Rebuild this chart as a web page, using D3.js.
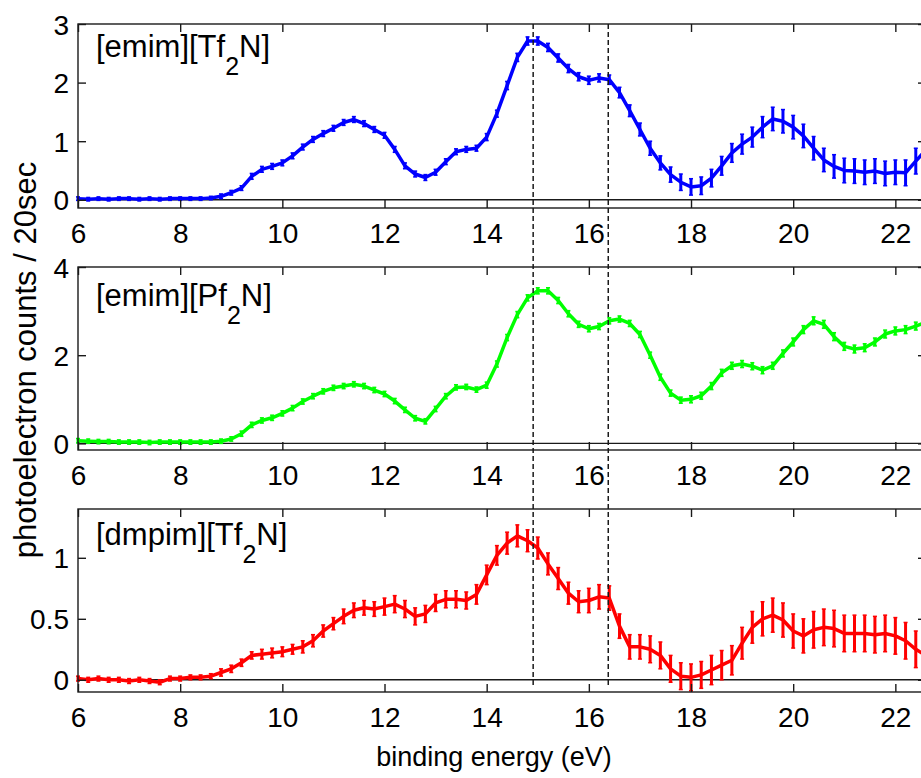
<!DOCTYPE html>
<html>
<head>
<meta charset="utf-8">
<script src="https://cdn.jsdelivr.net/npm/d3@7"></script>
<style>
  body { margin: 0; background: #fff; }
  svg { display: block; font-family: "Liberation Sans", Arial, sans-serif; }
</style>
</head>
<body>
<svg id="chart" width="921" height="778"></svg>
<script>
// binding energy grid (eV)
const energy = [
  6.0, 6.2, 6.4, 6.6, 6.8, 7.0, 7.2, 7.4, 7.6, 7.8,
  8.0, 8.2, 8.4, 8.6, 8.8, 9.0, 9.2, 9.4, 9.6, 9.8,
  10.0, 10.2, 10.4, 10.6, 10.8, 11.0, 11.2, 11.4, 11.6, 11.8,
  12.0, 12.2, 12.4, 12.6, 12.8, 13.0, 13.2, 13.4, 13.6, 13.8,
  14.0, 14.2, 14.4, 14.6, 14.8, 15.0, 15.2, 15.4, 15.6, 15.8,
  16.0, 16.2, 16.4, 16.6, 16.8, 17.0, 17.2, 17.4, 17.6, 17.8,
  18.0, 18.2, 18.4, 18.6, 18.8, 19.0, 19.2, 19.4, 19.6, 19.8,
  20.0, 20.2, 20.4, 20.6, 20.8, 21.0, 21.2, 21.4, 21.6, 21.8,
  22.0, 22.2, 22.4, 22.6
];

// [emim][Tf2N]
const emimTf2N = [
  0.02, 0.01, 0.02, 0.01, 0.02, 0.02, 0.01, 0.02, 0.01, 0.02,
  0.02, 0.02, 0.02, 0.03, 0.06, 0.12, 0.2, 0.4, 0.52, 0.57,
  0.63, 0.75, 0.9, 1.03, 1.13, 1.22, 1.32, 1.37, 1.3, 1.2,
  1.1, 0.86, 0.58, 0.44, 0.38, 0.47, 0.65, 0.82, 0.86, 0.88,
  1.07, 1.47, 1.95, 2.43, 2.71, 2.71, 2.6, 2.42, 2.24, 2.1,
  2.04, 2.08, 2.05, 1.83, 1.52, 1.2, 0.88, 0.63, 0.43, 0.3,
  0.22, 0.24, 0.37, 0.58, 0.8, 0.95, 1.07, 1.24, 1.38, 1.34,
  1.24, 1.09, 0.88, 0.68, 0.57, 0.5, 0.49, 0.47, 0.49, 0.45,
  0.47, 0.46, 0.66, 0.85
];
const emimTf2NErr = [
  0.03, 0.03, 0.03, 0.03, 0.03, 0.03, 0.03, 0.03, 0.03, 0.03,
  0.03, 0.03, 0.03, 0.03, 0.04, 0.04, 0.04, 0.05, 0.05, 0.05,
  0.05, 0.05, 0.05, 0.05, 0.05, 0.05, 0.05, 0.05, 0.05, 0.05,
  0.05, 0.05, 0.05, 0.05, 0.05, 0.05, 0.05, 0.05, 0.05, 0.05,
  0.06, 0.06, 0.07, 0.07, 0.07, 0.07, 0.07, 0.07, 0.07, 0.07,
  0.07, 0.07, 0.08, 0.09, 0.1, 0.11, 0.12, 0.12, 0.13, 0.14,
  0.14, 0.15, 0.15, 0.16, 0.16, 0.17, 0.17, 0.18, 0.2, 0.2,
  0.2, 0.2, 0.2, 0.2, 0.2, 0.21, 0.21, 0.21, 0.21, 0.21,
  0.21, 0.22, 0.22, 0.22
];

// [emim][Pf2N]
const emimPf2N = [
  0.06, 0.05, 0.04, 0.04, 0.03, 0.03, 0.03, 0.02, 0.03, 0.03,
  0.03, 0.03, 0.03, 0.03, 0.05, 0.1, 0.22, 0.42, 0.52, 0.58,
  0.68, 0.8, 0.95, 1.07, 1.18, 1.26, 1.3, 1.34, 1.3, 1.21,
  1.12, 0.96, 0.76, 0.57, 0.5, 0.78, 1.07, 1.27, 1.28, 1.22,
  1.32, 1.8, 2.4, 2.92, 3.3, 3.46, 3.46, 3.24, 2.94, 2.7,
  2.6, 2.65, 2.78, 2.82, 2.72, 2.47, 2.0, 1.5, 1.14, 0.98,
  1.0, 1.08, 1.3, 1.6, 1.76, 1.8, 1.75, 1.66, 1.76, 2.04,
  2.3, 2.58, 2.78, 2.7, 2.42, 2.2, 2.14, 2.17, 2.3, 2.48,
  2.55, 2.58, 2.66, 2.75
];
const emimPf2NErr = [
  0.05, 0.05, 0.05, 0.05, 0.05, 0.05, 0.05, 0.05, 0.05, 0.05,
  0.05, 0.05, 0.05, 0.05, 0.05, 0.05, 0.06, 0.06, 0.06, 0.06,
  0.06, 0.06, 0.06, 0.06, 0.06, 0.06, 0.06, 0.06, 0.06, 0.06,
  0.06, 0.06, 0.06, 0.06, 0.06, 0.06, 0.06, 0.06, 0.06, 0.06,
  0.07, 0.07, 0.07, 0.07, 0.07, 0.07, 0.07, 0.07, 0.07, 0.07,
  0.07, 0.07, 0.07, 0.07, 0.07, 0.07, 0.07, 0.07, 0.07, 0.07,
  0.08, 0.08, 0.08, 0.08, 0.08, 0.08, 0.08, 0.08, 0.08, 0.08,
  0.09, 0.09, 0.09, 0.09, 0.09, 0.09, 0.09, 0.09, 0.09, 0.09,
  0.09, 0.09, 0.09, 0.09
];

// [dmpim][Tf2N]
const dmpimTf2N = [
  0.01, 0.0, 0.01, 0.0, 0.0, -0.01, 0.0, -0.01, -0.02, 0.01,
  0.01, 0.02, 0.02, 0.03, 0.06, 0.09, 0.14, 0.2, 0.21, 0.22,
  0.23, 0.25, 0.27, 0.32, 0.4, 0.46, 0.52, 0.57, 0.59, 0.58,
  0.6, 0.62, 0.58, 0.52, 0.54, 0.63, 0.66, 0.66, 0.65, 0.7,
  0.86, 1.02, 1.12, 1.18, 1.14, 1.08, 0.95, 0.83, 0.71, 0.64,
  0.65, 0.68, 0.67, 0.44, 0.27, 0.27, 0.25, 0.2, 0.09, 0.03,
  0.02, 0.04, 0.08, 0.12, 0.16, 0.3, 0.43, 0.5, 0.53, 0.49,
  0.4, 0.36, 0.41, 0.43, 0.42, 0.38, 0.38, 0.38, 0.37, 0.38,
  0.36, 0.32, 0.25, 0.2
];
const dmpimTf2NErr = [
  0.02, 0.02, 0.02, 0.02, 0.02, 0.02, 0.02, 0.02, 0.02, 0.02,
  0.02, 0.02, 0.02, 0.02, 0.03, 0.03, 0.03, 0.03, 0.04, 0.04,
  0.04, 0.04, 0.05, 0.05, 0.05, 0.05, 0.06, 0.06, 0.06, 0.06,
  0.07, 0.07, 0.07, 0.07, 0.07, 0.07, 0.07, 0.07, 0.07, 0.08,
  0.08, 0.08, 0.09, 0.09, 0.09, 0.09, 0.09, 0.09, 0.09, 0.09,
  0.1, 0.1, 0.1, 0.1, 0.1, 0.1, 0.11, 0.11, 0.11, 0.11,
  0.11, 0.11, 0.12, 0.12, 0.12, 0.13, 0.13, 0.14, 0.14, 0.14,
  0.14, 0.14, 0.15, 0.15, 0.15, 0.15, 0.15, 0.15, 0.15, 0.15,
  0.15, 0.15, 0.15, 0.15
];

const xTicks = [6, 8, 10, 12, 14, 16, 18, 20, 22];
const markerEnergies = [14.91, 16.38];

const panelLabels = [
  ['[emim][Tf', '2', 'N]'],
  ['[emim][Pf', '2', 'N]'],
  ['[dmpim][Tf', '2', 'N]']
];
const panelYDomains = [[-0.14, 3], [-0.15, 4], [-0.1, 1.4]];
const panelYTicks = [[0, 1, 2, 3], [0, 2, 4], [0, 0.5, 1]];
const panelColors = ['#0000ff', '#00ff00', '#ff0000'];
const panelValues = [emimTf2N, emimPf2N, dmpimTf2N];
const panelErrors = [emimTf2NErr, emimPf2NErr, dmpimTf2NErr];

(function () {
  const svg = d3.select('#chart');
  svg.append('rect').attr('width', 921).attr('height', 778).attr('fill', '#fff');

  const left = 78, right = 926;
  const tops = [24, 267, 509];
  const bottoms = [208, 450, 692];
  const labelBaselines = [57, 306, 545];
  const ink = '#1a1a1a';

  const x = d3.scaleLinear().domain([6, 22.6]).range([left, right]);

  panelValues.forEach((vals, p) => {
    const y = d3.scaleLinear().domain(panelYDomains[p]).range([bottoms[p], tops[p]]);
    const g = svg.append('g');
    const col = panelColors[p];
    const errs = panelErrors[p];

    // zero line
    g.append('line')
      .attr('x1', left).attr('x2', right)
      .attr('y1', y(0)).attr('y2', y(0))
      .attr('stroke', ink).attr('stroke-width', 1.4);

    // error bars
    const eb = g.append('g').attr('stroke', col).attr('stroke-width', 3);
    vals.forEach((v, i) => {
      const cx = x(energy[i]);
      const y1 = y(v - errs[i]), y2 = y(v + errs[i]);
      eb.append('line').attr('x1', cx).attr('x2', cx).attr('y1', y1).attr('y2', y2);
      eb.append('line').attr('x1', cx - 2).attr('x2', cx + 2).attr('y1', y1).attr('y2', y1).attr('stroke-width', 1.5);
      eb.append('line').attr('x1', cx - 2).attr('x2', cx + 2).attr('y1', y2).attr('y2', y2).attr('stroke-width', 1.5);
    });

    // data line
    const line = d3.line().x((d, i) => x(energy[i])).y(d => y(d));
    g.append('path')
      .datum(vals)
      .attr('d', line)
      .attr('fill', 'none')
      .attr('stroke', col)
      .attr('stroke-width', 3.5)
      .attr('stroke-linejoin', 'round');

    // axes with inner ticks
    const bottomAxis = d3.axisBottom(x).tickValues(xTicks).tickSizeInner(-8).tickSizeOuter(0)
      .tickPadding(15).tickFormat(d3.format('d'));
    const topAxis = d3.axisTop(x).tickValues(xTicks).tickSizeInner(-8).tickSizeOuter(0).tickFormat('');
    const leftAxis = d3.axisLeft(y).tickValues(panelYTicks[p]).tickSizeInner(-8).tickSizeOuter(0)
      .tickPadding(9).tickFormat(d => String(d));
    const rightAxis = d3.axisRight(y).tickValues(panelYTicks[p]).tickSizeInner(-8).tickSizeOuter(0).tickFormat('');

    const axes = [
      g.append('g').attr('transform', `translate(0,${bottoms[p]})`).call(bottomAxis),
      g.append('g').attr('transform', `translate(0,${tops[p]})`).call(topAxis),
      g.append('g').attr('transform', `translate(${left},0)`).call(leftAxis),
      g.append('g').attr('transform', `translate(${right},0)`).call(rightAxis)
    ];
    axes.forEach(a => {
      a.select('.domain').remove();
      a.selectAll('line').attr('stroke', ink).attr('stroke-width', 1.4);
      a.selectAll('text').attr('fill', '#000').style('font-size', '28px')
        .style('font-family', '"Liberation Sans", Arial, sans-serif');
    });
    axes[2].selectAll('text').attr('dy', '0.36em');

    // frame
    g.append('rect')
      .attr('x', left).attr('y', tops[p])
      .attr('width', right - left).attr('height', bottoms[p] - tops[p])
      .attr('fill', 'none').attr('stroke', ink).attr('stroke-width', 1.4);

    // panel label with subscript
    const lab = panelLabels[p];
    const t = g.append('text')
      .attr('x', 96).attr('y', labelBaselines[p])
      .attr('fill', '#000').style('font-size', '31px');
    t.append('tspan').text(lab[0]);
    t.append('tspan').attr('dy', 18).style('font-size', '25px').text(lab[1]);
    t.append('tspan').attr('dy', -18).text(lab[2]);
  });

  // dashed reference lines across all panels
  svg.append('g').selectAll('line')
    .data(markerEnergies)
    .join('line')
    .attr('x1', d => x(d)).attr('x2', d => x(d))
    .attr('y1', tops[0]).attr('y2', 688)
    .attr('stroke', ink).attr('stroke-width', 1.5)
    .attr('stroke-dasharray', '5,3');

  // axis titles
  svg.append('text')
    .attr('x', 494).attr('y', 766)
    .attr('text-anchor', 'middle')
    .style('font-size', '27px')
    .text('binding energy (eV)');

  svg.append('text')
    .attr('transform', 'translate(36,360) rotate(-90)')
    .attr('text-anchor', 'middle')
    .style('font-size', '31px')
    .text('photoelectron counts / 20sec');
})();
</script>
</body>
</html>
